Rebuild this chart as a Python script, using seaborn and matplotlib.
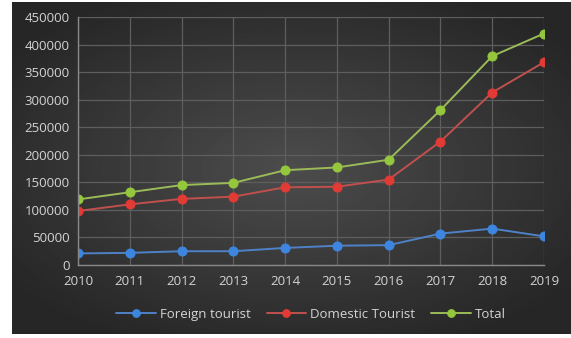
import numpy as np
import pandas as pd
import matplotlib
matplotlib.use("Agg")
import matplotlib.pyplot as plt
import seaborn as sns

years = [2010, 2011, 2012, 2013, 2014, 2015, 2016, 2017, 2018, 2019]
foreign = [21000, 22000, 25000, 25000, 31000, 35000, 36000, 57000, 66000, 52000]
domestic = [98000, 110000, 120000, 124000, 141000, 142000, 155000, 224000, 313000, 368000]
total = [119000, 132000, 145000, 149000, 172000, 177000, 191000, 281000, 379000, 420000]
series_names = ["Foreign tourist", "Domestic Tourist", "Total"]
y_ticks = [0, 50000, 100000, 150000, 200000, 250000, 300000, 350000, 400000, 450000]

df = pd.DataFrame({"Year": years * 3,
                   "Value": foreign + domestic + total,
                   "Series": [series_names[0]] * 10 + [series_names[1]] * 10 + [series_names[2]] * 10})

sns.set_theme(style="dark")
plt.rcParams['font.family'] = ['Open Sans', 'DejaVu Sans']

W, H = 571, 338
fig = plt.figure(figsize=(W / 100, H / 100), dpi=100, facecolor="white")

# dark radial-gradient background panel
bg = fig.add_axes([12 / W, 4 / H, (W - 12) / W, (H - 6) / H])
yy, xx = np.mgrid[-1:1:200j, -1:1:300j]
r = np.sqrt((xx * 0.85) ** 2 + (yy * 0.9) ** 2)
val = np.clip(0.30 - 0.14 * r, 0.15, 0.31)
bg.imshow(val, cmap="gray", vmin=0, vmax=1, aspect="auto", extent=[0, 1, 0, 1], interpolation="bilinear")
bg.set_axis_off()

ax = fig.add_axes([78 / W, 1 - 265 / H, (544 - 78) / W, (265 - 17) / H])
ax.patch.set_alpha(0)

line_cols = {"Foreign tourist": "#4f81c7", "Domestic Tourist": "#c0504d", "Total": "#9bbb59"}
marker_cols = {"Foreign tourist": "#3d86e0", "Domestic Tourist": "#e23a35", "Total": "#95c73c"}

for name in series_names:
    sub = df[df["Series"] == name]
    sns.lineplot(data=sub, x="Year", y="Value", ax=ax, color=line_cols[name], linewidth=1.4,
                 marker="o", markersize=6.5, markerfacecolor=marker_cols[name],
                 markeredgecolor=marker_cols[name], label=name)

ax.set_xlim(2010, 2019)
ax.set_ylim(0, 450000)
ax.set_xticks(years)
ax.set_xticklabels([str(y) for y in years])
ax.set_yticks(y_ticks)
ax.set_yticklabels([str(v) for v in y_ticks])
ax.set_xlabel("")
ax.set_ylabel("")
ax.grid(True, color="#5e5e5e", linewidth=0.9)
for s in ["top", "right"]:
    ax.spines[s].set_visible(False)
for s in ["left", "bottom"]:
    ax.spines[s].set_visible(True)
    ax.spines[s].set_color("#888888")
    ax.spines[s].set_linewidth(1.0)
ax.tick_params(axis="both", colors="#d0d0d0", labelsize=9.5, length=0)
ax.tick_params(axis="x", pad=7)
ax.tick_params(axis="y", pad=6)
for lbl in ax.get_xticklabels() + ax.get_yticklabels():
    lbl.set_color("#d4d4d4")

leg = ax.legend(loc="center", bbox_to_anchor=(0.5, -0.2), ncol=3, frameon=False,
                fontsize=9.5, handlelength=3.0, columnspacing=1.2, handletextpad=0.3,
                markerscale=0.85)
for t in leg.get_texts():
    t.set_color("#d4d4d4")

fig.savefig("out.png", dpi=100, facecolor="white")
